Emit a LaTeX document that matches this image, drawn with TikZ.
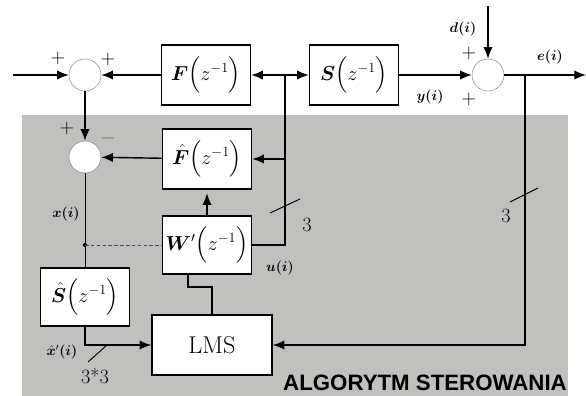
\documentclass[tikz,border=0pt]{standalone}
\usepackage{amsmath}
\usepackage{bm}
\usepackage{fontspec}
\newfontfamily\blocksans{Liberation Sans}
\usetikzlibrary{arrows.meta}
\definecolor{bggray}{RGB}{192,192,190}

\begin{document}
\begin{tikzpicture}[x=0.03cm, y=-0.03cm,
    blk/.style={draw, line width=1.3pt, fill=white, minimum width=2.67cm, minimum height=1.8cm, inner sep=1pt, font=\LARGE},
    sum/.style={circle, draw=gray, fill=white, minimum size=0.96cm, inner sep=0pt},
    sig/.style={font=\large},
    sgn/.style={font=\LARGE},
    wire/.style={line width=1.2pt},
    arr/.style={line width=1.2pt, -{Latex[length=10pt,width=8pt]}}
]
  \useasboundingbox (0,0) rectangle (586,396);
  % controller area
  \fill[bggray] (22,115) rectangle (568,396);
  \node[font=\blocksans\bfseries\fontsize{19}{22}\selectfont] (alg) at (425,383) {ALGORYTM STEROWANIA};
  % summing junctions
  \node[sum] (s1) at (85,75) {};
  \node[sum] (s2) at (85,157) {};
  \node[sum] (s3) at (488,75) {};
  % blocks
  \node[blk] (F) at (206,75) {$\bm{F}\Bigl(z^{-1}\Bigr)$};
  \node[blk] (Fh) at (207,159) {$\hat{\bm{F}}\Bigl(z^{-1}\Bigr)$};
  \node[blk] (S) at (354,75) {$\bm{S}\Bigl(z^{-1}\Bigr)$};
  \node[blk, minimum height=1.75cm] (W) at (207,245) {$\bm{W}'\Bigl(z^{-1}\Bigr)$};
  \node[blk, minimum height=1.75cm] (Sh) at (85,297) {$\hat{\bm{S}}\Bigl(z^{-1}\Bigr)$};
  \node[blk, minimum width=3.6cm, font=\huge] (LMS) at (212,345) {LMS};
  % points on the wires
  \coordinate (in) at (13,75);
  \coordinate (jF) at (285,75);
  \coordinate (jW) at (285,245);
  \coordinate (d) at (488,6);
  \coordinate (out) at (586,75);
  \coordinate (je) at (525,75);
  \coordinate (eL) at (525,345);
  \coordinate (xj) at (85,245);
  \coordinate (lu) at (212,287);
  \coordinate (lw) at (188,287);
  % connections
  \draw[arr] (in) -- (s1);
  \draw[arr] (F) -- (s1);
  \draw[arr] (s1) -- (s2);
  \draw[arr] (Fh) -- (s2);
  \draw[arr] (jF) -- (F);
  \draw[arr] (jF) -- (S);
  \draw[wire] (jF) -- (jW) -- (W.east);
  \draw[arr] (jF |- Fh) -- (Fh);
  \draw[arr] (S) -- (s3);
  \draw[arr] (d) -- (s3);
  \draw[arr] (s3) -- (out);
  \draw[arr] (je) -- (eL) -- (LMS);
  \draw[semithick] (s2) -- (Sh);
  \fill (xj) circle (1.8pt);
  \draw[semithick, densely dashed, black!70] (xj) -- (W);
  \draw[arr] (Sh.south) |- (LMS);
  \draw[wire] (LMS.north) -- (lu) -- (lw) -- (W.south -| lw);
  \draw[arr, shorten >=3pt] (W.north) -- (Fh.south);
  % bus width marks
  \draw[thick] (270,213) -- (300,199);
  \draw[thick] (510,202) -- (538,188);
  \draw[thick] (88,362) -- (107,345);
  \node[sgn] (n1) at (307,225) {3};
  \node[sgn] (n2) at (506,216) {3};
  \node[sgn] (n3) at (95,376) {3*3};
  % signs
  \node[sgn] (p1) at (58,58) {$+$};
  \node[sgn] (p2) at (108,59) {$+$};
  \node[sgn] (p3) at (67,128) {$+$};
  \node[sgn, text=black!60] (m1) at (108,138) {$-$};
  \node[sgn] (p4) at (469,53) {$+$};
  \node[sgn] (p5) at (469,99) {$+$};
  % signal labels
  \node[sig] (ld) at (463,29) {$\bm{d(i)}$};
  \node[sig] (le) at (550,57) {$\bm{e(i)}$};
  \node[sig] (ly) at (430,97) {$\bm{y(i)}$};
  \node[sig] (lx) at (66,214) {$\bm{x(i)}$};
  \node[sig] (lu2) at (280,268) {$\bm{u(i)}$};
  \node[sig] (lxh) at (62,352) {$\hat{\bm{x}}'\bm{(i)}$};
\end{tikzpicture}
\end{document}
